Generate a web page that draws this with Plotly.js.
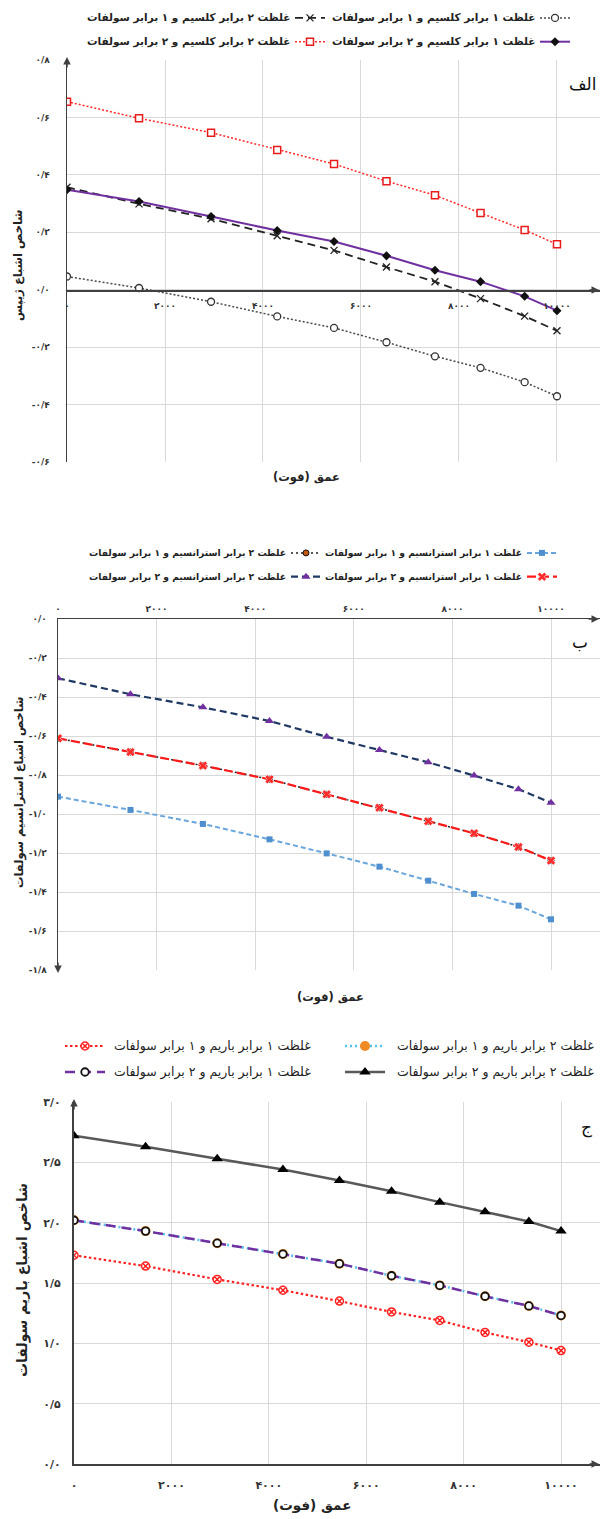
<!DOCTYPE html>
<html><head><meta charset="utf-8">
<script src="https://cdn.plot.ly/plotly-3.0.1.min.js"></script>
<style>html,body{margin:0;padding:0;background:#fff}#chart{width:600px;height:1519px}</style>
</head><body><div id="chart"></div>
<script>
// ---------- data ----------
const depth = [0, 1470, 2940, 4290, 5450, 6520, 7510, 8440, 9340, 10000];
const xTickVals = [0, 2000, 4000, 6000, 8000, 10000];
const xTickText = ['۰', '۲۰۰۰', '۴۰۰۰', '۶۰۰۰', '۸۰۰۰', '۱۰۰۰۰'];

// panel الف : gypsum saturation index
const gyp_1ca_1so4 = [0.046, 0.006, -0.042, -0.093, -0.133, -0.183, -0.232, -0.272, -0.322, -0.371];
const gyp_2ca_1so4 = [0.357, 0.299, 0.247, 0.188, 0.137, 0.079, 0.028, -0.031, -0.092, -0.143];
const gyp_1ca_2so4 = [0.348, 0.307, 0.255, 0.206, 0.168, 0.118, 0.068, 0.028, -0.023, -0.073];
const gyp_2ca_2so4 = [0.655, 0.597, 0.547, 0.487, 0.438, 0.378, 0.329, 0.267, 0.208, 0.158];
const gypTickVals = [-0.6, -0.4, -0.2, 0, 0.2, 0.4, 0.6, 0.8];
const gypTickText = ['-۰/۶', '-۰/۴', '-۰/۲', '۰/۰', '۰/۲', '۰/۴', '۰/۶', '۰/۸'];

// panel ب : celestite saturation index
const cel_1sr_1so4 = [-0.911, -0.979, -1.051, -1.130, -1.202, -1.270, -1.342, -1.410, -1.470, -1.540];
const cel_2sr_1so4 = [-0.612, -0.682, -0.752, -0.822, -0.899, -0.968, -1.037, -1.099, -1.169, -1.239];
const cel_1sr_2so4 = [-0.612, -0.682, -0.752, -0.822, -0.899, -0.968, -1.037, -1.099, -1.169, -1.239];
const cel_2sr_2so4 = [-0.304, -0.386, -0.453, -0.523, -0.604, -0.672, -0.735, -0.803, -0.873, -0.942];
const celTickVals = [-1.8, -1.6, -1.4, -1.2, -1.0, -0.8, -0.6, -0.4, -0.2, 0];
const celTickText = ['-۱/۸', '-۱/۶', '-۱/۴', '-۱/۲', '-۱/۰', '-۰/۸', '-۰/۶', '-۰/۴', '-۰/۲', '۰/۰'];

// panel ج : barite saturation index
const bar_1ba_1so4 = [1.73, 1.64, 1.53, 1.44, 1.35, 1.26, 1.19, 1.09, 1.01, 0.94];
const bar_2ba_1so4 = [2.02, 1.93, 1.83, 1.74, 1.66, 1.56, 1.48, 1.39, 1.31, 1.23];
const bar_1ba_2so4 = [2.02, 1.93, 1.83, 1.74, 1.66, 1.56, 1.48, 1.39, 1.31, 1.23];
const bar_2ba_2so4 = [2.72, 2.63, 2.53, 2.44, 2.35, 2.26, 2.17, 2.09, 2.01, 1.93];
const barTickVals = [0, 0.5, 1.0, 1.5, 2.0, 2.5, 3.0];
const barTickText = ['۰/۰', '۰/۵', '۱/۰', '۱/۵', '۲/۰', '۲/۵', '۳/۰'];

// labels
const gypNames = ['غلظت ۱ برابر کلسیم و ۱ برابر سولفات', 'غلظت ۲ برابر کلسیم و ۱ برابر سولفات',
                  'غلظت ۱ برابر کلسیم و ۲ برابر سولفات', 'غلظت ۲ برابر کلسیم و ۲ برابر سولفات'];
const celNames = ['غلظت ۱ برابر استرانسیم و ۱ برابر سولفات', 'غلظت ۲ برابر استرانسیم و ۱ برابر سولفات',
                  'غلظت ۱ برابر استرانسیم و ۲ برابر سولفات', 'غلظت ۲ برابر استرانسیم و ۲ برابر سولفات'];
const barNames = ['غلظت ۱ برابر باریم و ۱ برابر سولفات', 'غلظت ۲ برابر باریم و ۱ برابر سولفات',
                  'غلظت ۱ برابر باریم و ۲ برابر سولفات', 'غلظت ۲ برابر باریم و ۲ برابر سولفات'];
const xTitle = 'عمق (فوت)';
const yTitles = ['شاخص اشباع ژیپس', 'شاخص اشباع استرانسیم سولفات', 'شاخص اشباع باریم سولفات'];
const panelLetters = ['الف', 'ب', 'ج'];

// ---------- helpers ----------
const W = 600, H = 1519;
const PX = v => v / W, PY = v => 1 - v / H;
const FONT = 'DejaVu Sans, sans-serif';

function tr(y, xa, ya, leg, line, marker, hov) {
  return {x: depth, y: y, xaxis: xa, yaxis: ya, legend: leg, name: ' ', mode: 'lines+markers',
          line: line, marker: marker, showlegend: true, hovertext: hov, hoverinfo: 'x+y+text'};
}

const traces = [
  // panel 1
  tr(gyp_1ca_1so4, 'x', 'y', 'legend2', {color: '#4a4a4a', width: 1.5, dash: '2px,2px'},
     {symbol: 'circle', size: 7, color: '#fff', line: {color: '#333', width: 1.3}}, gypNames[0]),
  tr(gyp_2ca_1so4, 'x', 'y', 'legend', {color: '#222', width: 1.8, dash: '8px,5px'},
     {symbol: 'x-thin-open', size: 7, color: '#222', line: {color: '#222', width: 1.3}}, gypNames[1]),
  tr(gyp_1ca_2so4, 'x', 'y', 'legend2', {color: '#7030a0', width: 2},
     {symbol: 'diamond', size: 7, color: '#111'}, gypNames[2]),
  tr(gyp_2ca_2so4, 'x', 'y', 'legend', {color: '#ff2a2a', width: 1.5, dash: '2px,2px'},
     {symbol: 'square', size: 7, color: '#fff', line: {color: '#e81c1c', width: 1.5}}, gypNames[3]),
  // panel 2
  tr(cel_1sr_1so4, 'x2', 'y2', 'legend4', {color: '#6aa6dc', width: 2, dash: '5px,3px'},
     {symbol: 'square', size: 6, color: '#4f8fd0'}, celNames[0]),
  tr(cel_2sr_1so4, 'x2', 'y2', 'legend3', {color: '#222', width: 1.5, dash: '2px,3px'},
     {symbol: 'circle', size: 6, color: '#c55a11', line: {color: '#111', width: 1}}, celNames[1]),
  tr(cel_1sr_2so4, 'x2', 'y2', 'legend4', {color: '#ff1a1a', width: 2.2, dash: '9px,4px'},
     {symbol: 'x', size: 8, color: '#ff2a2a', line: {color: '#fff', width: 0.6}}, celNames[2]),
  tr(cel_2sr_2so4, 'x2', 'y2', 'legend3', {color: '#1f3864', width: 2.2, dash: '7px,4px'},
     {symbol: 'triangle-up', size: 8, color: '#7030a0'}, celNames[3]),
  // panel 3
  tr(bar_1ba_1so4, 'x3', 'y3', 'legend5', {color: '#ff2020', width: 2.2, dash: '2.5px,2.5px'},
     {symbol: 'circle-x', size: 8, color: '#fff', line: {color: '#ff2020', width: 1.5}}, barNames[0]),
  tr(bar_2ba_1so4, 'x3', 'y3', 'legend6', {color: '#55c1ec', width: 2.5, dash: '2px,3px'},
     {symbol: 'circle', size: 10, color: '#f08a24'}, barNames[1]),
  tr(bar_1ba_2so4, 'x3', 'y3', 'legend5', {color: '#7030a0', width: 2.5, dash: '10px,6px'},
     {symbol: 'circle', size: 7.5, color: '#fff', line: {color: '#111', width: 1.8}}, barNames[2]),
  tr(bar_2ba_2so4, 'x3', 'y3', 'legend6', {color: '#595959', width: 2.5},
     {symbol: 'triangle-up', size: 10, color: '#000'}, barNames[3])
];

const axBase = {showgrid: true, gridcolor: '#d9d9d9', gridwidth: 1, zeroline: false, showline: true,
  linecolor: '#404040', linewidth: 1.5, ticks: 'outside', tickcolor: 'rgba(0,0,0,0)', tickmode: 'array',
  tickfont: {family: FONT, size: 9, color: '#333', weight: 'bold'}, fixedrange: true};
const tickBig = {family: FONT, size: 11, color: '#333', weight: 'bold'};

const legBase = {bgcolor: 'rgba(0,0,0,0)', borderwidth: 0, orientation: 'v', xanchor: 'left', yanchor: 'top',
  itemwidth: 30, font: {size: 16}, tracegroupgap: 0, itemclick: false, itemdoubleclick: false};

const annotations = [];
function txt(text, x, y, size, xanchor, opts) {
  annotations.push(Object.assign({text: text, x: PX(x), y: PY(y), xref: 'paper', yref: 'paper',
    xanchor: xanchor, yanchor: 'middle', showarrow: false,
    font: {family: FONT, size: size, color: '#222', weight: 'bold'}}, opts || {}));
}
function arrow(x, y, ax, ay) {
  annotations.push({text: '', x: PX(x), y: PY(y), xref: 'paper', yref: 'paper', showarrow: true,
    ax: ax, ay: ay, arrowhead: 2, arrowsize: 1, arrowwidth: 1.5, arrowcolor: '#404040', standoff: 0});
}

// legend texts
txt(gypNames[1], 292, 18, 10.5, 'right');
txt(gypNames[0], 537, 18, 10.5, 'right');
txt(gypNames[3], 292, 42, 10.5, 'right');
txt(gypNames[2], 537, 42, 10.5, 'right');
txt(celNames[1], 288, 553, 9.2, 'right');
txt(celNames[0], 524, 553, 9.2, 'right');
txt(celNames[3], 288, 577, 9.2, 'right');
txt(celNames[2], 524, 577, 9.2, 'right');
const regFont = {family: FONT, size: 12.5, color: '#222'};
txt(barNames[0], 112, 1046, 12.5, 'left', {font: regFont});
txt(barNames[1], 395, 1046, 12.5, 'left', {font: regFont});
txt(barNames[2], 112, 1072, 12.5, 'left', {font: regFont});
txt(barNames[3], 395, 1072, 12.5, 'left', {font: regFont});

// axis titles
txt(xTitle, 306, 478, 11.5, 'center');
txt(xTitle, 330, 997, 11.5, 'center');
txt(xTitle, 312, 1505, 13.5, 'center');
txt(yTitles[0], 18, 265, 11.5, 'center', {textangle: -90});
txt(yTitles[1], 19, 792, 11.5, 'center', {textangle: -90});
txt(yTitles[2], 22, 1280, 14, 'center', {textangle: -90});

// panel letters
const letFont = {family: FONT, size: 17, color: '#111'};
txt(panelLetters[0], 599, 84, 17, 'right', {font: letFont});
txt(panelLetters[1], 590, 642, 17, 'right', {font: letFont});
txt(panelLetters[2], 594, 1127, 17, 'right', {font: letFont});

// axis arrows
arrow(67, 57, 0, 12);
arrow(600, 290, -12, 0);
arrow(599, 619, -12, 0);
arrow(58, 973, 0, -12);
arrow(74, 1099, 0, 12);
arrow(600, 1464, -12, 0);

const layout = {
  width: W, height: H, margin: {l: 0, r: 0, t: 0, b: 0}, paper_bgcolor: '#fff', plot_bgcolor: '#fff',
  font: {family: FONT},
  xaxis: Object.assign({}, axBase, {domain: [PX(67), 1], anchor: 'free', position: PY(290), range: [0, 10878],
    tickvals: xTickVals, ticktext: xTickText, ticklen: 7}),
  yaxis: Object.assign({}, axBase, {domain: [PY(462), PY(60)], anchor: 'x', range: [-0.6, 0.8],
    tickvals: gypTickVals, ticktext: gypTickText, ticklen: 14}),
  xaxis2: Object.assign({}, axBase, {domain: [PX(58), 1], anchor: 'y2', side: 'top', range: [0, 10994],
    tickvals: xTickVals, ticktext: xTickText, ticklen: 2}),
  yaxis2: Object.assign({}, axBase, {domain: [PY(970), PY(619)], anchor: 'x2', range: [-1.8, 0],
    tickvals: celTickVals, ticktext: celTickText, ticklen: 8}),
  xaxis3: Object.assign({}, axBase, {domain: [PX(74), 1], anchor: 'y3', range: [0, 10800], linewidth: 2,
    tickvals: xTickVals, ticktext: xTickText, ticklen: 10, tickfont: tickBig}),
  yaxis3: Object.assign({}, axBase, {domain: [PY(1464), PY(1102)], anchor: 'x3', range: [0, 3], linewidth: 2,
    tickvals: barTickVals, ticktext: barTickText, ticklen: 9, tickfont: tickBig}),
  legend:  Object.assign({}, legBase, {x: PX(290), y: PY(1)}),
  legend2: Object.assign({}, legBase, {x: PX(535), y: PY(1)}),
  legend3: Object.assign({}, legBase, {x: PX(286), y: PY(536)}),
  legend4: Object.assign({}, legBase, {x: PX(522), y: PY(536)}),
  legend5: Object.assign({}, legBase, {x: PX(60), y: PY(1028), itemwidth: 40, font: {size: 17.7}}),
  legend6: Object.assign({}, legBase, {x: PX(340), y: PY(1028), itemwidth: 40, font: {size: 17.7}}),
  annotations: annotations,
  showlegend: true
};

Plotly.newPlot('chart', traces, layout, {staticPlot: true, displayModeBar: false});
</script></body></html>
